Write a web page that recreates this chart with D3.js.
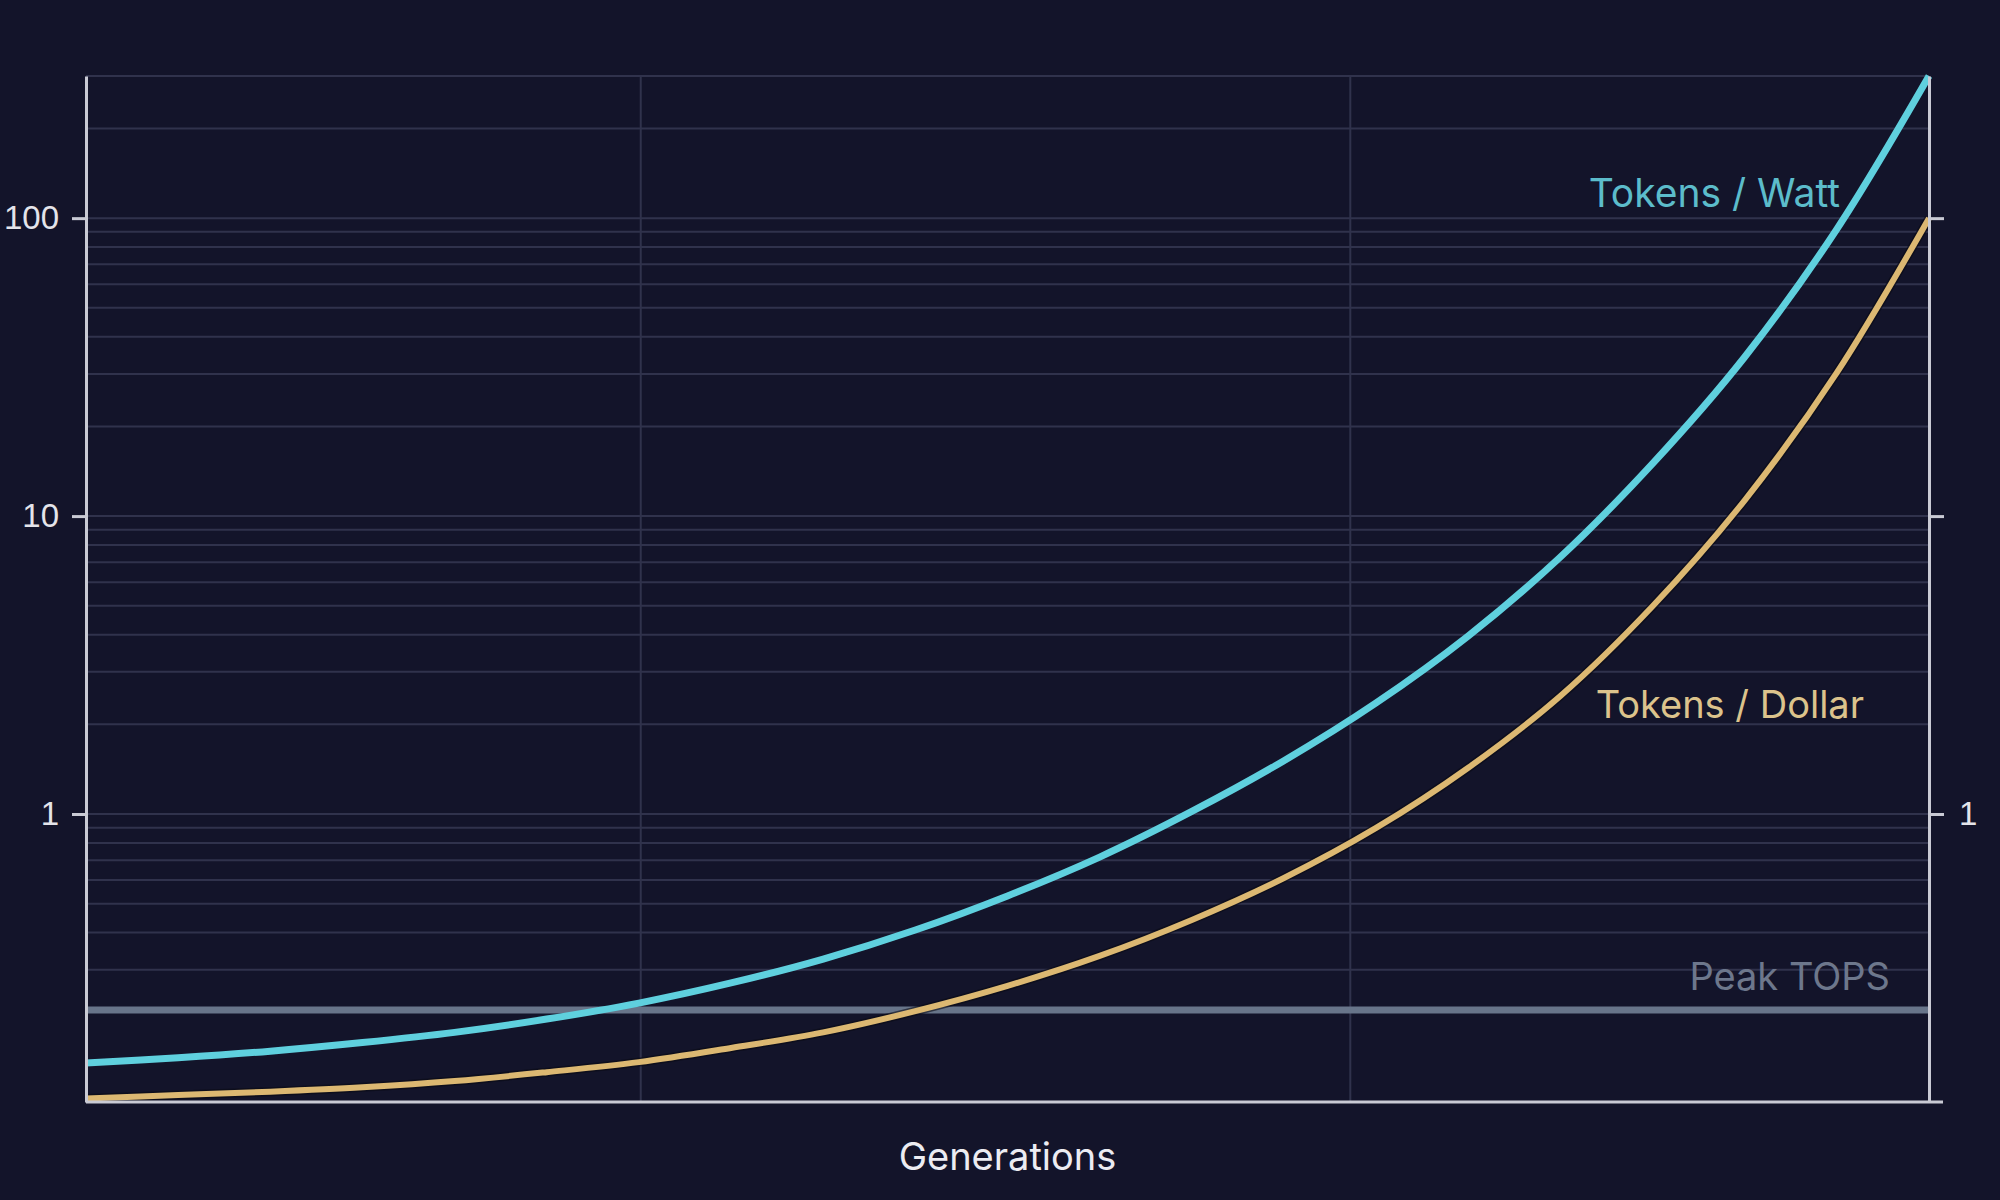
<!DOCTYPE html>
<html>
<head>
<meta charset="utf-8">
<script src="https://cdn.jsdelivr.net/npm/d3@7"></script>
<style>
  html, body { margin: 0; padding: 0; background: #13142a; }
  svg { display: block; font-family: Inter, "Noto Sans", sans-serif; }
</style>
</head>
<body>
<svg id="chart"></svg>
<script>
// series values (log y axis)
const generations = [0, 0.5, 1, 1.5, 2, 2.5, 3, 3.5, 4, 4.5, 5, 5.5, 6, 6.5, 7, 7.5, 8, 8.5, 9, 9.5, 10]
const tokensPerWatt = [0.146, 0.152, 0.160, 0.171, 0.185, 0.205, 0.232, 0.271, 0.326, 0.408, 0.531,
  0.717, 1.02, 1.51, 2.36, 3.96, 7.29, 15.0, 34.2, 91.9, 300]
const tokensPerDollar = [0.111, 0.114, 0.117, 0.121, 0.127, 0.136, 0.147, 0.164, 0.185, 0.218, 0.265,
  0.334, 0.441, 0.610, 0.898, 1.43, 2.49, 4.98, 11.3, 30.3, 100]
const peakTops = 0.22

const leftTicks = [1, 10, 100]
const rightTicks = [1, 10, 100]
const rightTickLabels = [1]
const xGridLines = [3.01, 6.86]
const xLabel = 'Generations'

const width = 2000
const height = 1200
const margin = {top: 76, right: 71, bottom: 98, left: 86}
const innerW = width - margin.left - margin.right
const innerH = height - margin.top - margin.bottom

const svg = d3.select('#chart')
  .attr('width', width)
  .attr('height', height)

svg.append('rect')
  .attr('width', width)
  .attr('height', height)
  .attr('fill', '#13142a')

const g = svg.append('g')
  .attr('transform', 'translate(' + margin.left + ',' + margin.top + ')')

// scales
const x = d3.scaleLinear().domain([0, 10]).range([0, innerW])
const y = d3.scaleLog().domain([0.108, 300]).range([innerH, 0])

// horizontal grid (log minor lines)
const gridVals = y.ticks().filter(v => v > 0.25)
g.append('g')
  .selectAll('line')
  .data(gridVals)
  .join('line')
  .attr('x1', 0)
  .attr('x2', innerW)
  .attr('y1', d => y(d))
  .attr('y2', d => y(d))
  .attr('stroke', '#30324c')
  .attr('stroke-width', 2)

// vertical grid
g.append('g')
  .selectAll('line')
  .data(xGridLines)
  .join('line')
  .attr('x1', d => x(d))
  .attr('x2', d => x(d))
  .attr('y1', 0)
  .attr('y2', innerH)
  .attr('stroke', '#30324c')
  .attr('stroke-width', 2)

// peak TOPS reference line
g.append('line')
  .attr('x1', 0)
  .attr('x2', innerW)
  .attr('y1', y(peakTops))
  .attr('y2', y(peakTops))
  .attr('stroke', '#68758a')
  .attr('stroke-width', 7)

// lines
const line = d3.line()
  .x((d, i) => x(generations[i]))
  .y(d => y(d))
  .curve(d3.curveCatmullRom.alpha(0.5))

g.append('path')
  .datum(tokensPerDollar)
  .attr('fill', 'none')
  .attr('stroke', '#0a0a14')
  .attr('stroke-width', 9)
  .attr('opacity', 0.6)
  .attr('d', line)

g.append('path')
  .datum(tokensPerDollar)
  .attr('fill', 'none')
  .attr('stroke', '#dcb872')
  .attr('stroke-width', 6)
  .attr('d', line)

g.append('path')
  .datum(tokensPerWatt)
  .attr('fill', 'none')
  .attr('stroke', '#5fd0de')
  .attr('stroke-width', 7)
  .attr('d', line)

// axes
const axisColor = '#c9cad4'

const left = g.append('g')
  .call(d3.axisLeft(y).tickValues(leftTicks).tickFormat(d3.format('d'))
    .tickSize(14).tickSizeOuter(0).tickPadding(13))
left.select('.domain').attr('stroke', axisColor).attr('stroke-width', 3)
left.selectAll('.tick line').attr('stroke', axisColor).attr('stroke-width', 3)
left.selectAll('.tick text')
  .attr('fill', '#e4e4ea')
  .attr('font-size', 33)

const right = g.append('g')
  .attr('transform', 'translate(' + innerW + ',0)')
  .call(d3.axisRight(y).tickValues(rightTicks)
    .tickFormat(d => rightTickLabels.includes(d) ? d3.format('d')(d) : '')
    .tickSize(15).tickSizeOuter(0).tickPadding(15))
right.select('.domain').attr('stroke', axisColor).attr('stroke-width', 3)
right.selectAll('.tick line').attr('stroke', axisColor).attr('stroke-width', 3)
right.selectAll('.tick text')
  .attr('fill', '#e4e4ea')
  .attr('font-size', 33)

const bottom = g.append('g')
  .attr('transform', 'translate(0,' + innerH + ')')
  .call(d3.axisBottom(x).tickValues([]).tickSizeOuter(0))
bottom.select('.domain')
  .attr('stroke', axisColor)
  .attr('stroke-width', 3)
  .attr('d', 'M0,0H' + (innerW + 14))

// axis title
svg.append('text')
  .attr('x', margin.left + innerW / 2)
  .attr('y', 1170)
  .attr('text-anchor', 'middle')
  .attr('fill', '#ececf2')
  .attr('font-size', 38)
  .text(xLabel)

// series labels
g.append('text')
  .attr('x', 1754)
  .attr('y', 131)
  .attr('text-anchor', 'end')
  .attr('fill', '#5cbccb')
  .attr('font-size', 39)
  .text('Tokens / Watt')

g.append('text')
  .attr('x', 1778)
  .attr('y', 642)
  .attr('text-anchor', 'end')
  .attr('fill', '#dcc38c')
  .attr('font-size', 38)
  .text('Tokens / Dollar')

g.append('text')
  .attr('x', 1804)
  .attr('y', y(peakTops) - 20)
  .attr('text-anchor', 'end')
  .attr('fill', '#6d778c')
  .attr('font-size', 38)
  .text('Peak TOPS')
</script>
</body>
</html>
